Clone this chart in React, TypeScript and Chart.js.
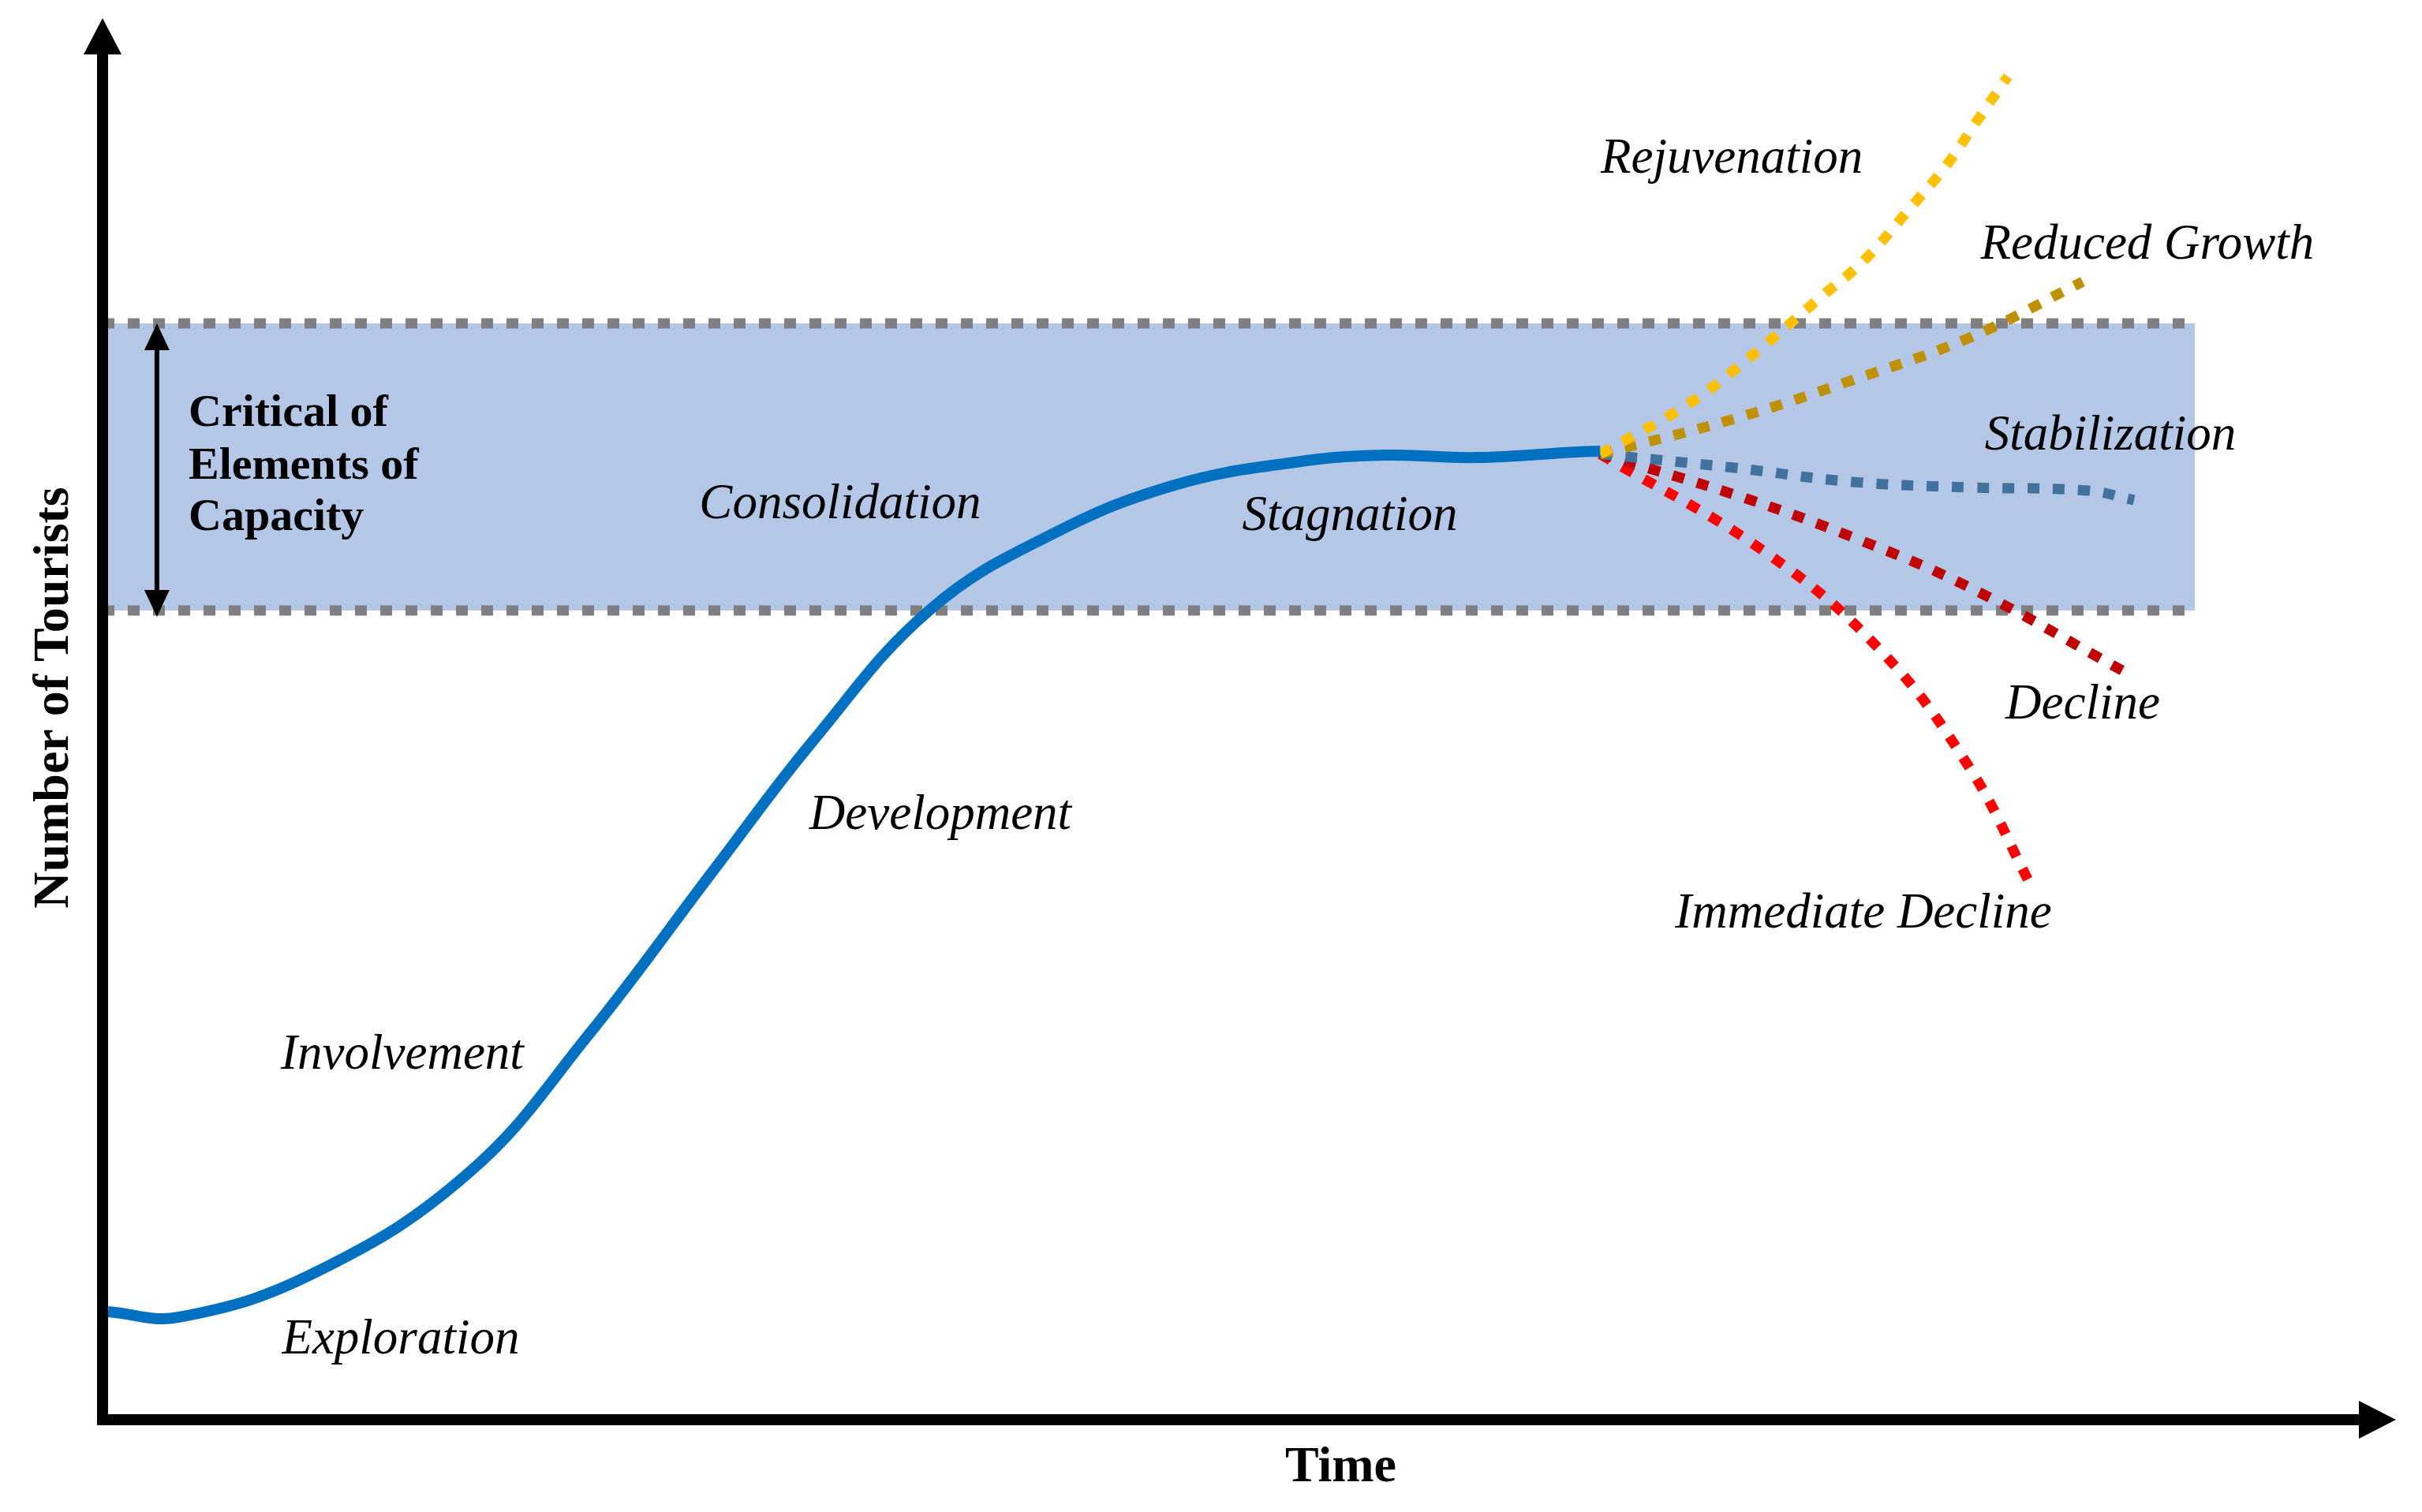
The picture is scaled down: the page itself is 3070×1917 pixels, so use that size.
import React, { useEffect, useRef } from 'react';
import { Chart, registerables } from 'chart.js';

Chart.register(...registerables);

// ---- data (time units 0..100, tourists units 0..100) ----
const mainTime = [0.24, 3.34, 9.29, 15.96, 21.22, 26.73, 30.96, 36.12, 41.49, 46.75, 52.01, 55.93, 59.89, 64.33, 65.3];
const mainTourists = [7.71, 7.32, 10.52, 17.61, 27.52, 39.39, 48.4, 57.85, 63.25, 66.69, 68.32, 68.82, 68.65, 69.05, 69.1];

const rejuvenationTime = [65.3, 69.11, 71.66, 74.99, 76.81, 78.84, 80.39, 81.67, 83.08];
const rejuvenationTourists = [68.9, 72.43, 75.58, 80.19, 82.72, 86.49, 89.48, 92.52, 95.84];

const reducedTime = [65.3, 71.14, 76.3, 81.42, 86.34];
const reducedTourists = [68.9, 71.41, 74.17, 77.21, 81.2];

const stabilizationTime = [65.3, 71.14, 76.3, 81.42, 86.55, 88.58];
const stabilizationTourists = [68.9, 67.92, 66.91, 66.52, 66.29, 65.62];

const declineTime = [65.3, 71.14, 76.3, 81.42, 88.06];
const declineTourists = [68.9, 66.01, 62.97, 59.37, 53.46];

const immediateTime = [65.3, 72.45, 77.57, 81.42, 84.0];
const immediateTourists = [68.9, 61.96, 54.81, 46.48, 38.38];

const capacityBand = [57.74, 78.22]; // lower, upper
const bandTime = [0, 91.23];
const capacityArrowTime = 2.37;

const stageNames = ['Exploration', 'Involvement', 'Development', 'Consolidation', 'Stagnation', 'Rejuvenation', 'Reduced Growth', 'Stabilization', 'Decline', 'Immediate Decline'];
const stageTime = [13.0, 13.07, 36.53, 32.16, 54.39, 71.04, 89.16, 87.55, 86.34, 76.78];
const stageTourists = [4.73, 25.04, 42.15, 64.32, 63.48, 88.97, 82.84, 69.22, 50.03, 35.12];

const capacityLines = ['Critical of', 'Elements of', 'Capacity'];
const capacityTime = 3.75;
const capacityTourists = [70.91, 67.14, 63.48];

const yTitle = 'Number of Tourists';
const xTitle = 'Time';

const pts = (xs: number[], ys: number[]) => xs.map((v, i) => ({ x: v, y: ys[i] }));

const overlayPlugin = {
  id: 'overlay',
  afterDatasetsDraw(chart: any) {
    const { ctx, chartArea: a } = chart;
    const xs = chart.scales.x;
    const ys = chart.scales.y;
    ctx.save();
    ctx.fillStyle = '#000';
    ctx.strokeStyle = '#000';

    // capacity double arrow
    const ax = xs.getPixelForValue(capacityArrowTime);
    const yt = ys.getPixelForValue(capacityBand[1]);
    const yb = ys.getPixelForValue(capacityBand[0]) + 8;
    ctx.lineWidth = 6;
    ctx.beginPath();
    ctx.moveTo(ax, yt + 30);
    ctx.lineTo(ax, yb - 30);
    ctx.stroke();
    ctx.beginPath();
    ctx.moveTo(ax, yt);
    ctx.lineTo(ax - 16, yt + 34);
    ctx.lineTo(ax + 16, yt + 34);
    ctx.closePath();
    ctx.fill();
    ctx.beginPath();
    ctx.moveTo(ax, yb);
    ctx.lineTo(ax - 16, yb - 34);
    ctx.lineTo(ax + 16, yb - 34);
    ctx.closePath();
    ctx.fill();

    // axes with arrows
    ctx.lineWidth = 14;
    ctx.lineCap = 'butt';
    ctx.beginPath();
    ctx.moveTo(a.left, a.bottom + 7);
    ctx.lineTo(a.left, a.top + 44);
    ctx.stroke();
    ctx.beginPath();
    ctx.moveTo(a.left, a.top);
    ctx.lineTo(a.left - 24, a.top + 46);
    ctx.lineTo(a.left + 24, a.top + 46);
    ctx.closePath();
    ctx.fill();

    ctx.beginPath();
    ctx.moveTo(a.left - 7, a.bottom);
    ctx.lineTo(a.right - 45, a.bottom);
    ctx.stroke();
    ctx.beginPath();
    ctx.moveTo(a.right, a.bottom);
    ctx.lineTo(a.right - 47, a.bottom - 24);
    ctx.lineTo(a.right - 47, a.bottom + 24);
    ctx.closePath();
    ctx.fill();

    // stage labels
    ctx.font = 'italic 63px "Liberation Serif"';
    ctx.textAlign = 'center';
    ctx.textBaseline = 'alphabetic';
    stageNames.forEach((name, i) => {
      ctx.fillText(name, xs.getPixelForValue(stageTime[i]), ys.getPixelForValue(stageTourists[i]));
    });

    // capacity text
    ctx.font = 'bold 58px "Liberation Serif"';
    ctx.textAlign = 'left';
    capacityLines.forEach((line, i) => {
      ctx.fillText(line, xs.getPixelForValue(capacityTime), ys.getPixelForValue(capacityTourists[i]));
    });

    // axis titles
    ctx.font = 'bold 64px "Liberation Serif"';
    ctx.textAlign = 'center';
    ctx.fillText(xTitle, (a.left + a.right) / 2 + 116, a.bottom + 78);
    ctx.save();
    ctx.translate(a.left - 44, (a.top + a.bottom) / 2 - 27);
    ctx.rotate(-Math.PI / 2);
    ctx.fillText(yTitle, 0, 0);
    ctx.restore();

    ctx.restore();
  },
};

export default function App() {
  const canvasRef = useRef<HTMLCanvasElement | null>(null);

  useEffect(() => {
    if (!canvasRef.current) return;
    const dotted = (label: string, xs: number[], ys: number[], color: string) => ({
      label,
      data: pts(xs, ys),
      borderColor: color,
      borderWidth: 13,
      borderDash: [15, 17],
      borderCapStyle: 'butt' as const,
      tension: 0.4,
      pointRadius: 0,
      fill: false,
      order: 1,
    });
    const chart = new Chart(canvasRef.current, {
      type: 'line',
      data: {
        datasets: [
          {
            label: 'Capacity upper',
            data: pts(bandTime, [capacityBand[1], capacityBand[1]]),
            borderColor: '#7F7F7F',
            borderWidth: 13,
            borderDash: [15, 17],
            backgroundColor: '#B4C7E7',
            fill: '+1',
            pointRadius: 0,
            order: 10,
          },
          {
            label: 'Capacity lower',
            data: pts(bandTime, [capacityBand[0], capacityBand[0]]),
            borderColor: '#7F7F7F',
            borderWidth: 13,
            borderDash: [15, 17],
            fill: false,
            pointRadius: 0,
            order: 9,
          },
          {
            label: 'Tourist area life cycle',
            data: pts(mainTime, mainTourists),
            borderColor: '#0070C0',
            borderWidth: 14,
            tension: 0.4,
            pointRadius: 0,
            fill: false,
            order: 0,
          },
          dotted('Rejuvenation', rejuvenationTime, rejuvenationTourists, '#FFC000'),
          dotted('Reduced Growth', reducedTime, reducedTourists, '#BF9000'),
          dotted('Stabilization', stabilizationTime, stabilizationTourists, '#41719C'),
          dotted('Decline', declineTime, declineTourists, '#C00000'),
          dotted('Immediate Decline', immediateTime, immediateTourists, '#FF0000'),
        ],
      },
      options: {
        animation: false,
        responsive: true,
        maintainAspectRatio: false,
        devicePixelRatio: 1,
        events: [],
        layout: { padding: { left: 130, right: 33, top: 23, bottom: 117 } },
        scales: {
          x: { type: 'linear', min: 0, max: 100, display: false },
          y: { type: 'linear', min: 0, max: 100, display: false },
        },
        plugins: {
          legend: { display: false },
          tooltip: { enabled: false },
          filler: { drawTime: 'beforeDatasetsDraw' },
        },
      },
      plugins: [overlayPlugin],
    });
    return () => chart.destroy();
  }, []);

  return (
    <div style={{ position: 'absolute', left: 0, top: 0, width: 3070, height: 1917, background: '#fff' }}>
      <canvas ref={canvasRef} />
    </div>
  );
}
